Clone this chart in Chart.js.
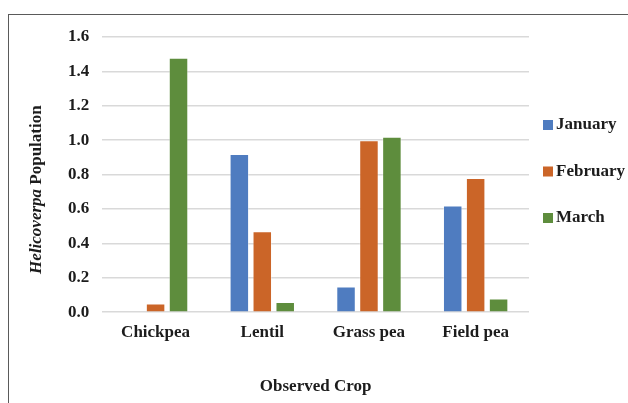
<!DOCTYPE html>
<html>
<head>
<meta charset="utf-8">
<script src="https://cdn.jsdelivr.net/npm/chart.js@4/dist/chart.umd.min.js"></script>
<style>
  html, body { margin: 0; padding: 0; background: #fff; }
  #wrap { position: relative; width: 628px; height: 403px; overflow: hidden; }
  #frame { position: absolute; left: 8px; top: 14px; width: 700px; height: 500px;
           border: 1.5px solid #5a5a5a; box-sizing: border-box; pointer-events: none; }
  #box { position: absolute; left: 0; top: 0; width: 628px; height: 403px; }
</style>
</head>
<body>
<div id="wrap">
  <div id="box"><canvas id="c"></canvas></div>
  <div id="frame"></div>
</div>
<script>
// Crops observed and monthly Helicoverpa counts
const crops = ['Chickpea', 'Lentil', 'Grass pea', 'Field pea'];
const january = [0, 0.92, 0.15, 0.62];
const february = [0.05, 0.47, 1.00, 0.78];
const march = [1.48, 0.06, 1.02, 0.08];
const yTicks = [0, 0.2, 0.4, 0.6, 0.8, 1.0, 1.2, 1.4, 1.6];

const serif = "'Liberation Serif', 'Times New Roman', serif";
const ink = '#1c1c1c';
const fontPx = 17;

// Y-axis title with the genus name set in italics
const yTitlePlugin = {
  id: 'yTitle',
  afterDraw(chart) {
    const { ctx, chartArea } = chart;
    ctx.save();
    const cx = 37;
    const cy = (chartArea.top + chartArea.bottom) / 2 + 15;
    ctx.translate(cx, cy);
    ctx.rotate(-Math.PI / 2);
    ctx.fillStyle = ink;
    ctx.textBaseline = 'middle';
    const italic = 'italic bold ' + fontPx + 'px ' + serif;
    const upright = 'bold ' + fontPx + 'px ' + serif;
    const a = 'Helicoverpa', b = ' Population';
    ctx.font = italic; const wa = ctx.measureText(a).width;
    ctx.font = upright; const wb = ctx.measureText(b).width;
    const x = -(wa + wb) / 2;
    ctx.textAlign = 'left';
    ctx.font = italic; ctx.fillText(a, x, 0);
    ctx.font = upright; ctx.fillText(b, x + wa, 0);
    ctx.restore();
  }
};

// Legend to the right of the plot, one series per row
const sideLegendPlugin = {
  id: 'sideLegend',
  afterDraw(chart) {
    const { ctx, chartArea } = chart;
    ctx.save();
    ctx.font = 'bold ' + fontPx + 'px ' + serif;
    ctx.textBaseline = 'middle';
    ctx.textAlign = 'left';
    chart.data.datasets.forEach((ds, i) => {
      const y = chartArea.top + 88 + i * 46.5;
      const x = chartArea.right + 14;
      ctx.fillStyle = ds.backgroundColor;
      ctx.fillRect(x, y - 5, 10, 10);
      ctx.fillStyle = ink;
      ctx.fillText(ds.label, x + 13, y);
    });
    ctx.restore();
  }
};

const barStyle = { borderWidth: 1, borderColor: 'rgba(255,255,255,0.35)',
                   categoryPercentage: 0.645, barPercentage: 0.85 };

new Chart(document.getElementById('c'), {
  type: 'bar',
  data: {
    labels: crops,
    datasets: [
      Object.assign({ label: 'January', data: january, backgroundColor: '#4f7cc0' }, barStyle),
      Object.assign({ label: 'February', data: february, backgroundColor: '#cb6528' }, barStyle),
      Object.assign({ label: 'March', data: march, backgroundColor: '#5e8d3d' }, barStyle)
    ]
  },
  options: {
    responsive: true,
    maintainAspectRatio: false,
    animation: false,
    layout: { padding: { left: 55, top: 37, right: 99, bottom: 6 } },
    plugins: {
      legend: { display: false },
      tooltip: { enabled: false }
    },
    scales: {
      x: {
        grid: { display: false, drawTicks: false },
        border: { display: false },
        ticks: { color: ink, padding: 10, font: { family: serif, size: fontPx, weight: 'bold' } },
        title: { display: true, text: 'Observed Crop', color: ink,
                 font: { family: serif, size: fontPx, weight: 'bold' }, padding: { top: 24, bottom: 0 } }
      },
      y: {
        min: 0, max: 1.6,
        afterBuildTicks(scale) { scale.ticks = yTicks.map(v => ({ value: v })); },
        grid: { color: '#d9d9d9', lineWidth: 1.5, drawTicks: false },
        border: { display: false },
        ticks: { color: ink, padding: 13,
                 font: { family: serif, size: fontPx, weight: 'bold' },
                 callback: v => Number(v).toFixed(1) }
      }
    }
  },
  plugins: [yTitlePlugin, sideLegendPlugin]
});
</script>
</body>
</html>
